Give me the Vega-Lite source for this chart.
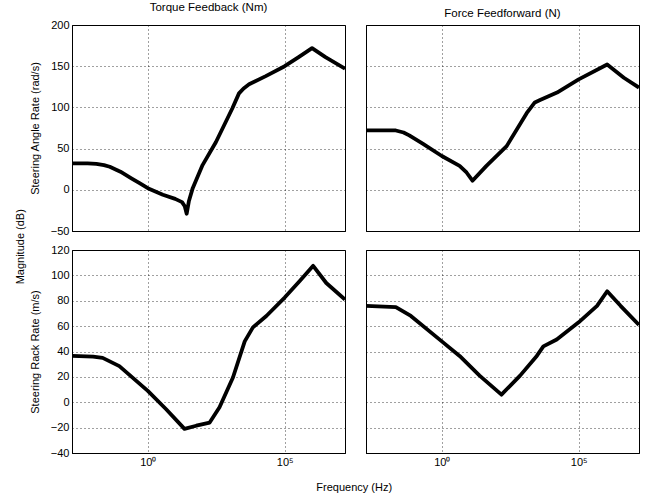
{
  "$schema": "https://vega.github.io/schema/vega-lite/v6.json",
  "background": "white",
  "padding": {"top": 1, "left": 14, "right": 0, "bottom": 0},
  "title": {"text": "Magnitude (dB)", "orient": "left", "anchor": "middle", "fontSize": 11, "fontWeight": "normal", "offset": 3, "font": "Liberation Sans", "color": "black"},
  "data": {"values": [
    {"panel": "TA", "f": 0.0017, "mag": 32},
    {"panel": "TA", "f": 0.0063, "mag": 32},
    {"panel": "TA", "f": 0.0132, "mag": 31.5},
    {"panel": "TA", "f": 0.0251, "mag": 30},
    {"panel": "TA", "f": 0.0407, "mag": 28},
    {"panel": "TA", "f": 0.1, "mag": 22},
    {"panel": "TA", "f": 0.251, "mag": 14},
    {"panel": "TA", "f": 0.5, "mag": 8},
    {"panel": "TA", "f": 1, "mag": 2},
    {"panel": "TA", "f": 3.55, "mag": -6},
    {"panel": "TA", "f": 10, "mag": -11},
    {"panel": "TA", "f": 17.8, "mag": -15},
    {"panel": "TA", "f": 22.4, "mag": -20},
    {"panel": "TA", "f": 26.3, "mag": -29},
    {"panel": "TA", "f": 31.6, "mag": -14},
    {"panel": "TA", "f": 43.7, "mag": 2},
    {"panel": "TA", "f": 100, "mag": 30},
    {"panel": "TA", "f": 309, "mag": 58},
    {"panel": "TA", "f": 1230, "mag": 99},
    {"panel": "TA", "f": 2140, "mag": 117},
    {"panel": "TA", "f": 3160, "mag": 123},
    {"panel": "TA", "f": 5010, "mag": 128},
    {"panel": "TA", "f": 20400, "mag": 138},
    {"panel": "TA", "f": 100000, "mag": 150},
    {"panel": "TA", "f": 324000, "mag": 161},
    {"panel": "TA", "f": 1000000, "mag": 172},
    {"panel": "TA", "f": 3090000, "mag": 161},
    {"panel": "TA", "f": 16000000, "mag": 147},
    {"panel": "TF", "f": 0.0017, "mag": 72},
    {"panel": "TF", "f": 0.0209, "mag": 72},
    {"panel": "TF", "f": 0.04, "mag": 69.5},
    {"panel": "TF", "f": 0.0646, "mag": 66},
    {"panel": "TF", "f": 0.2, "mag": 56},
    {"panel": "TF", "f": 1, "mag": 41},
    {"panel": "TF", "f": 4.47, "mag": 29},
    {"panel": "TF", "f": 8, "mag": 21},
    {"panel": "TF", "f": 13.2, "mag": 11},
    {"panel": "TF", "f": 42.7, "mag": 29},
    {"panel": "TF", "f": 234, "mag": 53},
    {"panel": "TF", "f": 1260, "mag": 93},
    {"panel": "TF", "f": 2500, "mag": 106},
    {"panel": "TF", "f": 3890, "mag": 109},
    {"panel": "TF", "f": 16200, "mag": 118},
    {"panel": "TF", "f": 100000, "mag": 134},
    {"panel": "TF", "f": 1100000, "mag": 152},
    {"panel": "TF", "f": 4470000, "mag": 136},
    {"panel": "TF", "f": 16000000, "mag": 124},
    {"panel": "RA", "f": 0.0017, "mag": 36.5},
    {"panel": "RA", "f": 0.0100, "mag": 36},
    {"panel": "RA", "f": 0.0224, "mag": 35},
    {"panel": "RA", "f": 0.0912, "mag": 28.5},
    {"panel": "RA", "f": 1, "mag": 9},
    {"panel": "RA", "f": 4.68, "mag": -5.5},
    {"panel": "RA", "f": 21.9, "mag": -21},
    {"panel": "RA", "f": 58.9, "mag": -18.5},
    {"panel": "RA", "f": 182, "mag": -16},
    {"panel": "RA", "f": 417, "mag": -4},
    {"panel": "RA", "f": 1290, "mag": 19.5},
    {"panel": "RA", "f": 3470, "mag": 48},
    {"panel": "RA", "f": 6920, "mag": 59},
    {"panel": "RA", "f": 21400, "mag": 68},
    {"panel": "RA", "f": 100000, "mag": 82.5},
    {"panel": "RA", "f": 355000, "mag": 95.5},
    {"panel": "RA", "f": 1100000, "mag": 107.5},
    {"panel": "RA", "f": 3310000, "mag": 94},
    {"panel": "RA", "f": 16000000, "mag": 81},
    {"panel": "RF", "f": 0.0017, "mag": 76},
    {"panel": "RF", "f": 0.0209, "mag": 75},
    {"panel": "RF", "f": 0.0741, "mag": 68},
    {"panel": "RF", "f": 1, "mag": 48},
    {"panel": "RF", "f": 4.47, "mag": 36.5},
    {"panel": "RF", "f": 24, "mag": 21},
    {"panel": "RF", "f": 151, "mag": 6},
    {"panel": "RF", "f": 724, "mag": 21},
    {"panel": "RF", "f": 2950, "mag": 36.5},
    {"panel": "RF", "f": 5130, "mag": 44},
    {"panel": "RF", "f": 15800, "mag": 49.5},
    {"panel": "RF", "f": 100000, "mag": 63},
    {"panel": "RF", "f": 468000, "mag": 76},
    {"panel": "RF", "f": 1100000, "mag": 87.5},
    {"panel": "RF", "f": 3390000, "mag": 76},
    {"panel": "RF", "f": 16000000, "mag": 61}
  ]},
  "vconcat": [
    {
      "hconcat": [
        {
          "title": {"text": "Torque Feedback (Nm)"},
          "width": 273, "height": 206,
          "transform": [{"filter": "datum.panel === 'TA'"}],
          "mark": {"type": "line", "color": "black", "strokeWidth": 3.8, "clip": true, "strokeJoin": "round"},
          "encoding": {
            "x": {"field": "f", "type": "quantitative", "scale": {"type": "log", "domain": [0.0017, 16000000], "nice": false},
                  "axis": {"values": [1, 100000], "labels": false, "ticks": false, "title": null}},
            "y": {"field": "mag", "type": "quantitative", "scale": {"domain": [-50, 200], "nice": false, "zero": false},
                  "axis": {"values": [-50, 0, 50, 100, 150, 200], "title": "Steering Angle Rate (rad/s)"}}
          }
        },
        {
          "title": {"text": "Force Feedforward (N)"},
          "width": 273, "height": 206,
          "transform": [{"filter": "datum.panel === 'TF'"}],
          "mark": {"type": "line", "color": "black", "strokeWidth": 3.8, "clip": true, "strokeJoin": "round"},
          "encoding": {
            "x": {"field": "f", "type": "quantitative", "scale": {"type": "log", "domain": [0.0017, 16000000], "nice": false},
                  "axis": {"values": [1, 100000], "labels": false, "ticks": false, "title": null}},
            "y": {"field": "mag", "type": "quantitative", "scale": {"domain": [-50, 200], "nice": false, "zero": false},
                  "axis": {"values": [-50, 0, 50, 100, 150, 200], "labels": false, "title": null}}
          }
        }
      ]
    },
    {
      "title": {"text": "Frequency (Hz)", "orient": "bottom", "anchor": "middle", "fontSize": 11, "offset": 14, "dx": 20},
      "hconcat": [
        {
          "width": 273, "height": 203,
          "transform": [{"filter": "datum.panel === 'RA'"}],
          "mark": {"type": "line", "color": "black", "strokeWidth": 3.8, "clip": true, "strokeJoin": "round"},
          "encoding": {
            "x": {"field": "f", "type": "quantitative", "scale": {"type": "log", "domain": [0.0017, 16000000], "nice": false},
                  "axis": {"values": [1, 100000], "labelExpr": "datum.value == 1 ? '10⁰' : '10⁵'", "title": null}},
            "y": {"field": "mag", "type": "quantitative", "scale": {"domain": [-40, 120], "nice": false, "zero": false},
                  "axis": {"values": [-40, -20, 0, 20, 40, 60, 80, 100, 120], "title": "Steering Rack Rate (m/s)"}}
          }
        },
        {
          "width": 273, "height": 203,
          "transform": [{"filter": "datum.panel === 'RF'"}],
          "mark": {"type": "line", "color": "black", "strokeWidth": 3.8, "clip": true, "strokeJoin": "round"},
          "encoding": {
            "x": {"field": "f", "type": "quantitative", "scale": {"type": "log", "domain": [0.0017, 16000000], "nice": false},
                  "axis": {"values": [1, 100000], "labelExpr": "datum.value == 1 ? '10⁰' : '10⁵'", "title": null}},
            "y": {"field": "mag", "type": "quantitative", "scale": {"domain": [-40, 120], "nice": false, "zero": false},
                  "axis": {"values": [-40, -20, 0, 20, 40, 60, 80, 100, 120], "labels": false, "title": null}}
          }
        }
      ]
    }
  ],
  "spacing": 6,
  "config": {
    "font": "Liberation Sans",
    "concat": {"spacing": 19},
    "view": {"stroke": "black", "strokeWidth": 1},
    "title": {"fontSize": 11.5, "fontWeight": "normal", "color": "black", "offset": 6, "font": "Liberation Sans"},
    "axis": {
      "labelFont": "Liberation Sans", "labelFontSize": 11, "labelColor": "black", "labelPadding": 3,
      "titleFont": "Liberation Sans", "titleFontSize": 11, "titleFontWeight": "normal", "titleColor": "black", "titlePadding": 10,
      "domainColor": "black", "ticks": false,
      "grid": true, "gridColor": "black", "gridDash": [1, 3], "gridOpacity": 0.75, "gridWidth": 1
    }
  }
}
